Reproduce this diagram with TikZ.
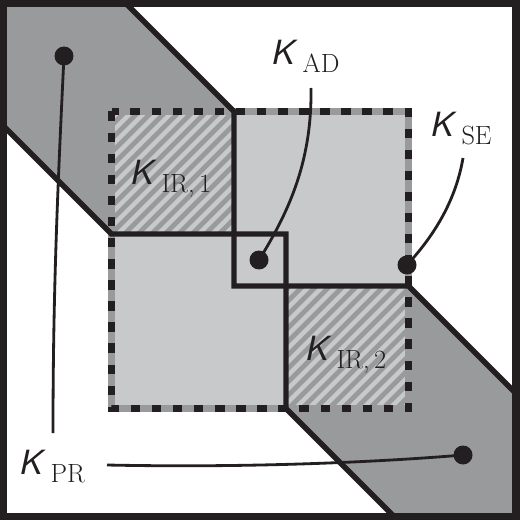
\documentclass[tikz,border=0pt]{standalone}
\usepackage{fontspec}
\newfontfamily\hv{TeX Gyre Heros}
\definecolor{ink}{RGB}{35,31,32}
\definecolor{bandgray}{RGB}{153,154,156}
\definecolor{lightgr}{RGB}{200,201,203}
\newcommand{\klab}[1]{{\hv\itshape\fontsize{19}{19}\selectfont K}\hspace{4.5pt}\raisebox{-0.16cm}{\fontsize{15}{15}\selectfont #1}}
\tikzset{
  frameline/.style={draw=ink, line width=4pt},
  edgeline/.style={draw=ink, line width=3.1pt, line join=miter},
  borderbase/.style={draw=bandgray, line width=3.7pt},
  borderdash/.style={draw=ink, line width=3.7pt, dash pattern=on 5.4pt off 6.6pt},
  stripe/.style={draw=bandgray, line width=2.7pt},
  conn/.style={draw=ink, line width=1.6pt},
  dot/.style={circle, fill=ink, inner sep=0pt, minimum size=0.38cm},
  lab/.style={anchor=base west, inner sep=0pt, text=ink}
}
\begin{document}
\begin{tikzpicture}[x=0.02cm,y=-0.02cm]
\useasboundingbox (0,0) rectangle (520,520);
\fill[white] (0,0) rectangle (520,520);
% diagonal band
\fill[bandgray] (3.5,3.5) -- (126,3.5) -- (516,393.5) -- (516,516.5) -- (394,516.5) -- (3.5,126) -- cycle;
% inner square
\fill[lightgr] (111.5,111.5) rectangle (408.5,408.5);
\begin{scope}
  \clip (111.5,111.5) rectangle (234,234);
  \foreach \i in {0,...,21} {
    \draw[stripe] ({210+13.5*\i-100},100) -- ({210+13.5*\i-250},250);
  }
\end{scope}
\begin{scope}
  \clip (286,286) rectangle (408.5,408.5);
  \foreach \i in {0,...,21} {
    \draw[stripe] ({562+13.5*\i-270},270) -- ({562+13.5*\i-420},420);
  }
\end{scope}
\draw[borderbase] (111.5,111.5) rectangle (408.5,408.5);
\draw[borderdash] (111.5,111.5) -- (111.5,408.5) -- (408.5,408.5) -- (408.5,111.5) -- cycle;
% solid boundaries
\draw[edgeline] (126,3.5) -- (234,111.5) -- (234,286) -- (408.5,286) -- (516,393.5);
\draw[edgeline] (3.5,126) -- (111.5,234) -- (286,234) -- (286,408.5) -- (394,516.5);
% frame
\draw[frameline] (3.5,3.5) rectangle (516,516.5);
% dots
\node[dot] (dpr1) at (64,56) {};
\node[dot] (dpr2) at (463,455) {};
\node[dot] (dad) at (259,260) {};
\node[dot] (dse) at (407,265) {};
% connector free ends
\coordinate (epr1) at (53,433);
\coordinate (epr2) at (107,465);
\coordinate (ead) at (311,88);
\coordinate (ese) at (463,158);
\draw[conn] (dpr1.center) .. controls (57,200) and (53,300) .. (epr1);
\draw[conn] (epr2) .. controls (250,468) and (380,462) .. (dpr2.center);
\draw[conn] (ead) .. controls (312,160) and (290,210) .. (dad.center);
\draw[conn] (ese) .. controls (455,205) and (430,240) .. (dse.center);
% labels
\node[lab] (lad) at (272,65) {\klab{AD}};
\node[lab] (lse) at (431,137) {\klab{SE}};
\node[lab] (lpr) at (20,474) {\klab{PR}};
\node[lab] (lir1) at (131,185) {\klab{IR,\,1}};
\node[lab] (lir2) at (306,360) {\klab{IR,\,2}};
\end{tikzpicture}
\end{document}
